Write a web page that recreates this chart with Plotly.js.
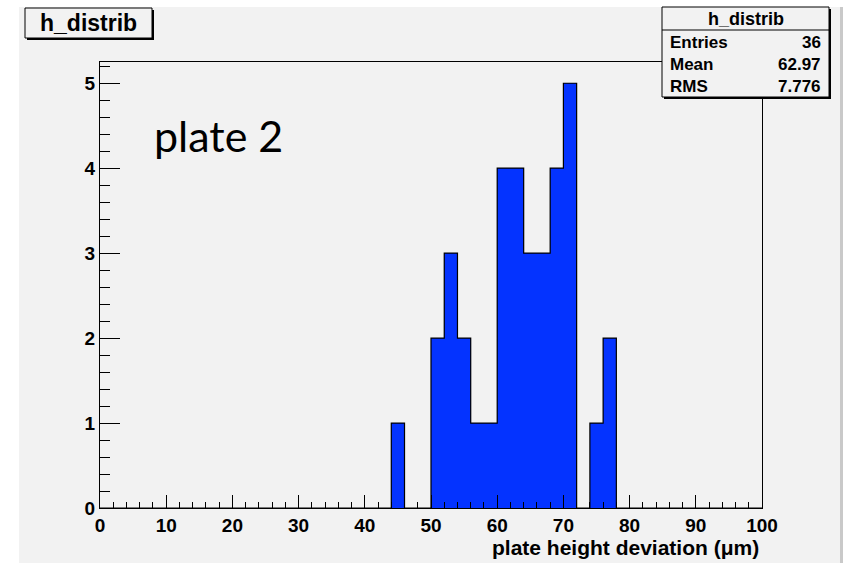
<!DOCTYPE html>
<html>
<head>
<meta charset="utf-8">
<script src="https://cdn.plot.ly/plotly-3.0.1.min.js"></script>
<style>html,body{margin:0;padding:0;background:#fff;}#chart{width:843px;height:563px;}</style>
</head>
<body>
<div id="chart"></div>
<script>
// ---- data ----
const histName = "h_distrib";
const xAxisTitle = "plate height deviation (\u03bcm)";
const overlayLabel = "plate 2";
const binStart = 0;
const binWidth = 2;
// counts per 2-um bin, from 0 to 100
const counts = [0,0,0,0,0, 0,0,0,0,0, 0,0,0,0,0, 0,0,0,0,0,
                0,0,1,0,0, 2,3,2,1,1, 4,4,3,3,4, 5,0,1,2,0,
                0,0,0,0,0, 0,0,0,0,0];
const statLabels = ["Entries", "Mean", "RMS"];
const statValues = ["36", "62.97", "7.776"];
const xTickVals = [0,10,20,30,40,50,60,70,80,90,100];
const yTickVals = [0,1,2,3,4,5];

// ---- derived ----
const centers = counts.map((c,i)=> binStart + binWidth*(i+0.5));
const edgesX = counts.map((c,i)=> binStart + binWidth*i).concat([binStart + binWidth*counts.length]);
const edgesY = counts.concat([0]);

// plot area in pixels
const L = 100, R = 762, T = 62, B = 508;
const px = X => (X - L) / (R - L);
const py = Y => (B - Y) / (B - T);

const font = "Liberation Sans, Arial, Helvetica, sans-serif";
const bg = "#f2f2f2";

const traces = [
  {type:"bar", x:centers, y:counts, width:binWidth,
   marker:{color:"#0433ff", line:{width:0}}, hoverinfo:"skip", showlegend:false},
  {type:"scatter", mode:"lines", x:edgesX, y:edgesY, line:{shape:"hv", color:"#000", width:1.2},
   hoverinfo:"skip", showlegend:false}
];

function rect(x0,y0,x1,y1,opts){
  return Object.assign({type:"rect", xref:"paper", yref:"paper",
    x0:px(x0), x1:px(x1), y0:py(y1), y1:py(y0)}, opts);
}

const shapes = [
  rect(0,0,19,563,{fillcolor:"#fff", line:{width:0}, layer:"below"}),
  rect(0,0,843,7,{fillcolor:"#fff", line:{width:0}, layer:"below"}),
  rect(840,7,843,563,{fillcolor:"#c9c9c9", line:{width:0}, layer:"below"}),
  rect(27,10,154,40,{fillcolor:"#000", line:{width:0}, layer:"above"}),
  rect(25,8,152,38,{fillcolor:bg, line:{color:"#000", width:1}, layer:"above"}),
  rect(664,9,831,99,{fillcolor:"#000", line:{width:0}, layer:"above"}),
  rect(662,7,829,97,{fillcolor:bg, line:{color:"#000", width:1}, layer:"above"}),
  {type:"line", xref:"paper", yref:"paper", x0:px(662), x1:px(829), y0:py(30), y1:py(30),
   line:{color:"#000", width:1}, layer:"above"}
];

const annotations = [
  {text:histName, xref:"paper", yref:"paper", x:px(88), y:py(23), xanchor:"center", yanchor:"middle",
   showarrow:false, font:{family:font, size:23, color:"#000", weight:"bold"}},
  {text:histName, xref:"paper", yref:"paper", x:px(745.5), y:py(19), xanchor:"center", yanchor:"middle",
   showarrow:false, font:{family:font, size:18, color:"#000", weight:"bold"}},
  {text:overlayLabel, xref:"paper", yref:"paper", x:px(152), y:py(135), xanchor:"left", yanchor:"middle",
   showarrow:false, font:{family:"Lato, Open Sans, sans-serif", size:43, color:"#000"}},
  {text:xAxisTitle, xref:"paper", yref:"paper", x:px(761), y:py(547), xanchor:"right", yanchor:"middle",
   showarrow:false, font:{family:font, size:21, color:"#000", weight:"bold"}}
];
statLabels.forEach((lab,i)=>{
  const yy = 42 + 22*i;
  annotations.push({text:lab, xref:"paper", yref:"paper", x:px(668), y:py(yy), xanchor:"left", yanchor:"middle",
    showarrow:false, font:{family:font, size:17, color:"#000", weight:"bold"}});
  annotations.push({text:statValues[i], xref:"paper", yref:"paper", x:px(823), y:py(yy), xanchor:"right", yanchor:"middle",
    showarrow:false, font:{family:font, size:17, color:"#000", weight:"bold"}});
});

const layout = {
  width:843, height:563,
  margin:{l:L, r:843-R, t:T, b:563-B, pad:0},
  paper_bgcolor:bg, plot_bgcolor:bg,
  bargap:0, showlegend:false,
  xaxis:{range:[0,100], tickvals:xTickVals, ticks:"inside", ticklen:13, tickwidth:1, tickcolor:"#000",
    showline:true, linecolor:"#000", linewidth:1.2, mirror:true, showgrid:false, zeroline:false,
    minor:{dtick:2, ticks:"inside", ticklen:6, tickwidth:1, tickcolor:"#000", showgrid:false},
    tickfont:{family:font, size:19, color:"#000", weight:"bold"}, fixedrange:true},
  yaxis:{range:[0,5.25], tickvals:yTickVals, ticks:"inside", ticklen:20, tickwidth:1, tickcolor:"#000",
    showline:true, linecolor:"#000", linewidth:1.2, mirror:true, showgrid:false, zeroline:false,
    minor:{dtick:0.2, ticks:"inside", ticklen:10, tickwidth:1, tickcolor:"#000", showgrid:false},
    tickfont:{family:font, size:19, color:"#000", weight:"bold"}, fixedrange:true},
  shapes:shapes, annotations:annotations
};

Plotly.newPlot("chart", traces, layout, {displayModeBar:false, staticPlot:true});
</script>
</body>
</html>
